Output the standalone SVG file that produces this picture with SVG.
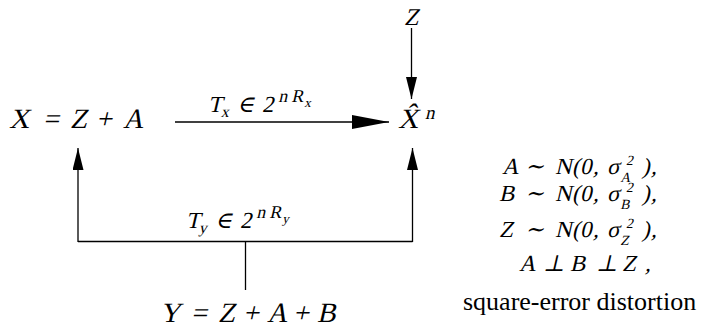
<svg xmlns="http://www.w3.org/2000/svg" width="704" height="327" viewBox="0 0 704 327">
<style>
text{font-family:"Liberation Serif","Times New Roman",serif;fill:#000}
.sym{font-family:"DejaVu Serif","Liberation Serif",serif}
.m{font-size:28px}
.lab{font-size:23px}
.sc{font-size:16px}
.sp{font-size:18px}
.ssc{font-size:13px}
.r{font-size:23px}
.rs{font-size:14px}
.ln{fill:none;stroke:#000;stroke-width:1.3}
</style>
<defs>
<marker id="headL" markerUnits="userSpaceOnUse" viewBox="0 0 37 14" markerWidth="37" markerHeight="14" refX="37" refY="7" orient="auto"><path d="M0,0 L37,7 L0,14 z" fill="#000"/></marker>
<marker id="headS" markerUnits="userSpaceOnUse" viewBox="0 0 22 11" markerWidth="22" markerHeight="11" refX="22" refY="5.5" orient="auto"><path d="M0,0 L22,5.5 L0,11 z" fill="#000"/></marker>
</defs>
<rect width="704" height="327" fill="#fff"/>
<g id="node-Z">
<text transform="translate(0,25) skewX(-13)" x="404" y="0" font-size="24">Z</text>
</g>
<g id="node-X">
<text class="m" transform="translate(0,128) skewX(-13)"><tspan x="9" y="0">X</tspan><tspan x="43">=</tspan><tspan x="70">Z</tspan><tspan x="96">+</tspan><tspan x="123">A</tspan></text>
</g>
<g id="node-Xhat">
<text class="m" transform="translate(0,128) skewX(-13)"><tspan x="398" y="0">X̂</tspan><tspan font-size="19" x="423" y="-9">n</tspan></text>
</g>
<g id="node-Y">
<text class="m" transform="translate(0,322) skewX(-13)"><tspan x="160" y="0">Y</tspan><tspan x="191">=</tspan><tspan x="218">Z</tspan><tspan x="243">+</tspan><tspan x="267">A</tspan><tspan x="293">+</tspan><tspan x="317">B</tspan></text>
</g>
<g id="connectors">
<path class="ln" d="M411.5,28 V99" marker-end="url(#headS)"/>
<path class="ln" d="M175,122 H389" marker-end="url(#headL)"/>
<path class="ln" d="M78,241.5 H412.5"/>
<path class="ln" d="M245.5,241.5 V290"/>
<path class="ln" d="M78,242 V148" marker-end="url(#headS)"/>
<path class="ln" d="M412.5,242 V148" marker-end="url(#headS)"/>
<text class="lab" transform="translate(0,112) skewX(-13)"><tspan x="208" y="0">T</tspan><tspan class="sc" x="222" y="5">x</tspan><tspan class="sym" x="237" y="0">∈</tspan><tspan x="262">2</tspan><tspan class="sp" x="276" y="-10">n</tspan><tspan class="sp" x="289">R</tspan><tspan class="ssc" x="303" y="-5">x</tspan></text>
<text class="lab" transform="translate(0,228) skewX(-13)"><tspan x="186" y="0">T</tspan><tspan class="sc" x="200" y="5">y</tspan><tspan class="sym" x="215" y="0">∈</tspan><tspan x="240">2</tspan><tspan class="sp" x="254" y="-10">n</tspan><tspan class="sp" x="267">R</tspan><tspan class="ssc" x="281" y="-5">y</tspan></text>
</g>
<g id="node-info">
<text class="r" transform="translate(0,174) skewX(-13)"><tspan x="502" y="0">A</tspan><tspan class="sym" x="525">∼</tspan><tspan x="555">N</tspan><tspan x="572">(</tspan><tspan x="580">0</tspan><tspan x="593">,</tspan><tspan x="607">σ</tspan><tspan class="rs" x="624" y="-9">2</tspan><tspan class="rs" x="622" y="8">A</tspan><tspan x="642" y="0">)</tspan><tspan x="651">,</tspan></text>
<text class="r" transform="translate(0,201) skewX(-13)"><tspan x="499" y="0">B</tspan><tspan class="sym" x="525">∼</tspan><tspan x="555">N</tspan><tspan x="572">(</tspan><tspan x="580">0</tspan><tspan x="593">,</tspan><tspan x="607">σ</tspan><tspan class="rs" x="624" y="-9">2</tspan><tspan class="rs" x="622" y="8">B</tspan><tspan x="642" y="0">)</tspan><tspan x="651">,</tspan></text>
<text class="r" transform="translate(0,237) skewX(-13)"><tspan x="499" y="0">Z</tspan><tspan class="sym" x="525">∼</tspan><tspan x="555">N</tspan><tspan x="572">(</tspan><tspan x="580">0</tspan><tspan x="593">,</tspan><tspan x="607">σ</tspan><tspan class="rs" x="624" y="-9">2</tspan><tspan class="rs" x="622" y="8">Z</tspan><tspan x="642" y="0">)</tspan><tspan x="651">,</tspan></text>
<text class="r" transform="translate(0,271) skewX(-13)"><tspan x="519" y="0">A</tspan><tspan class="sym" x="543">⊥</tspan><tspan x="570">B</tspan><tspan class="sym" x="596">⊥</tspan><tspan x="622">Z</tspan><tspan x="645">,</tspan></text>
<text x="463" y="310" font-size="26">square-error distortion</text>
</g>
</svg>
